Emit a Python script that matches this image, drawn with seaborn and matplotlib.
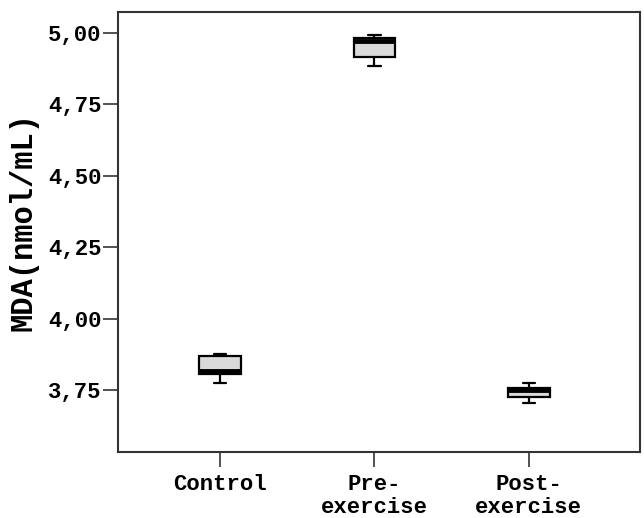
import matplotlib
matplotlib.use("Agg")
import matplotlib.pyplot as plt
import seaborn as sns
import pandas as pd

# Data (five-number summaries: min, Q1, median, Q3, max)
groups = ["Control", "Pre-\nexercise", "Post-\nexercise"]
control = [3.775, 3.805, 3.815, 3.870, 3.875]
pre_exercise = [4.884, 4.916, 4.972, 4.982, 4.993]
post_exercise = [3.704, 3.725, 3.750, 3.757, 3.775]
yticks = [3.75, 4.00, 4.25, 4.50, 4.75, 5.00]
ytick_labels = ["3,75", "4,00", "4,25", "4,50", "4,75", "5,00"]

rows = []
for g, vals in zip(groups, [control, pre_exercise, post_exercise]):
    for v in vals:
        rows.append({"group": g, "MDA": v})
df = pd.DataFrame(rows)

sns.set_style("white")
plt.rcParams["font.family"] = ["Liberation Mono", "DejaVu Sans"]
plt.rcParams["font.weight"] = "bold"
plt.rcParams["text.color"] = "black"
plt.rcParams["xtick.color"] = "black"
plt.rcParams["ytick.color"] = "black"
plt.rcParams["axes.labelcolor"] = "black"

fig = plt.figure(figsize=(6.44, 5.18), dpi=100)
ax = fig.add_axes([0.1832, 0.1274, 0.8106, 0.8494])

sns.boxplot(data=df, x="group", y="MDA", order=groups, ax=ax,
            whis=(0, 100), width=0.27, color="#dadada", linecolor="black",
            linewidth=1.6, fliersize=0,
            medianprops={"linewidth": 3.5, "color": "black"},
            capwidths=0.08)

ax.set_ylim(3.533, 5.0735)
ax.set_xlim(-0.66, 2.72)
ax.set_yticks(yticks)
ax.set_yticklabels(ytick_labels)
ax.set_xlabel("")
ax.set_ylabel("MDA(nmol/mL)", fontsize=22, fontweight="bold")
ax.yaxis.set_label_coords(-0.153, 0.525)
ax.tick_params(axis="both", labelsize=16, width=1.2, color="#333333",
               direction="out", left=True, bottom=True)
ax.tick_params(axis="y", length=11, pad=1)
ax.tick_params(axis="x", length=11, pad=5)
for lab in ax.get_xticklabels() + ax.get_yticklabels():
    lab.set_fontweight("bold")
    lab.set_linespacing(1.1)
for s in ax.spines.values():
    s.set_visible(True)
    s.set_linewidth(1.5)
    s.set_color("#333333")

fig.savefig("out.png", dpi=100)
